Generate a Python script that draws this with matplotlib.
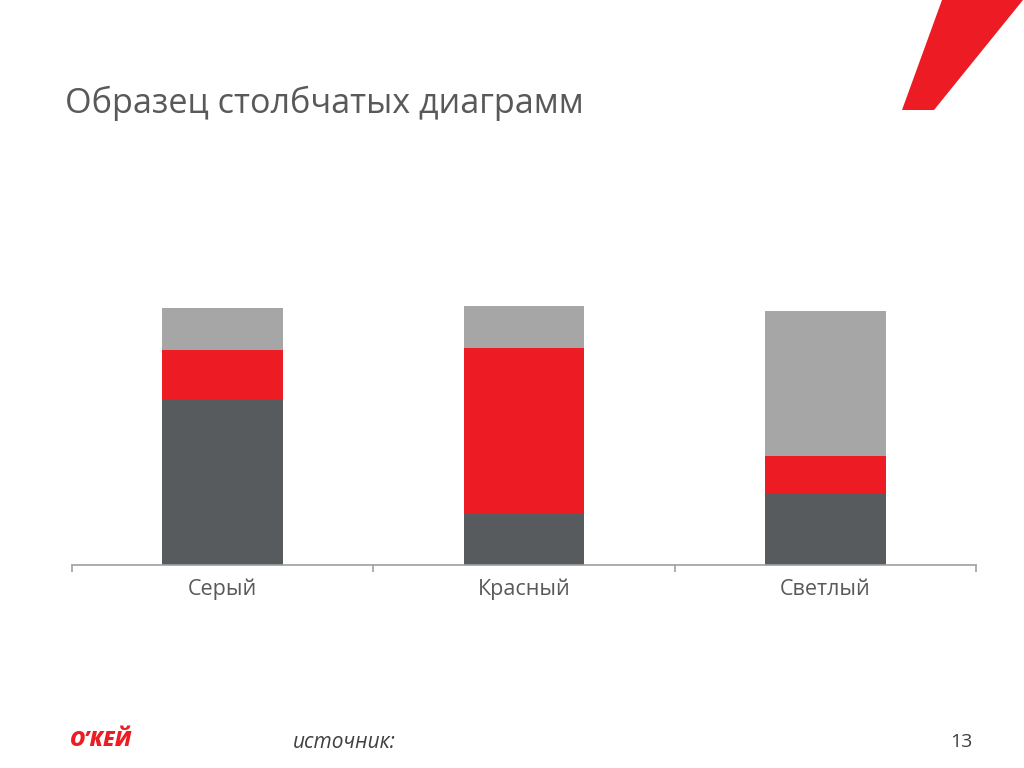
import matplotlib.pyplot as plt
from matplotlib.patches import Polygon

plt.rcParams["font.family"] = ["Open Sans", "DejaVu Sans"]

categories = ["Серый", "Красный", "Светлый"]
dark_values = [58.9, 18.2, 25.7]
red_values = [17.9, 59.3, 13.2]
light_values = [15.0, 15.0, 51.8]

DARK = "#575b5d"
RED = "#ed1c24"
LIGHT = "#a6a6a6"
TEXT = "#595959"

fig = plt.figure(figsize=(10.24, 7.68), dpi=100)
fig.patch.set_facecolor("white")

# red slanted stripe, top right
stripe = Polygon([(942 / 1024, 1.0), (1023 / 1024, 1.0),
                  (934 / 1024, 1 - 110 / 768), (902 / 1024, 1 - 110 / 768)],
                 closed=True, transform=fig.transFigure, facecolor=RED,
                 edgecolor="none")
fig.patches.append(stripe)

fig.text(65 / 1024, 1 - 103 / 768, "Образец столбчатых диаграмм",
         fontsize=24.6, color=TEXT, va="center", ha="left")

ax = fig.add_axes([72 / 1024, 1 - 565 / 768, 904 / 1024, 280 / 768])
x = range(len(categories))
bottom2 = [a + b for a, b in zip(dark_values, red_values)]
ax.bar(x, dark_values, width=0.4, color=DARK)
ax.bar(x, red_values, width=0.4, bottom=dark_values, color=RED)
ax.bar(x, light_values, width=0.4, bottom=bottom2, color=LIGHT)

ax.set_xlim(-0.5, 2.5)
ax.set_ylim(0, 100)
for s in ["top", "right", "left"]:
    ax.spines[s].set_visible(False)
ax.spines["bottom"].set_color("#a0a0a0")
ax.spines["bottom"].set_linewidth(1.2)
ax.set_yticks([])
ax.set_xticks(list(x))
ax.set_xticklabels(categories, fontsize=15.5, color=TEXT)
ax.tick_params(axis="x", which="major", length=0, pad=10)
ax.set_xticks([-0.5, 0.5, 1.5, 2.5], minor=True)
ax.tick_params(axis="x", which="minor", length=5, color="#a0a0a0", width=1.2)

# footer
fig.text(70 / 1024, 1 - 741 / 768, "О’КЕЙ", fontsize=15, color=RED,
         fontweight="heavy", fontstyle="italic", va="center", ha="left")
fig.text(293 / 1024, 1 - 742 / 768, "источник:", fontsize=15, color="#404040",
         fontstyle="italic", va="center", ha="left")
fig.text(972 / 1024, 1 - 742 / 768, "13", fontsize=14, color="#404040",
         va="center", ha="right")

fig.savefig("out.png", dpi=100, facecolor="white")
